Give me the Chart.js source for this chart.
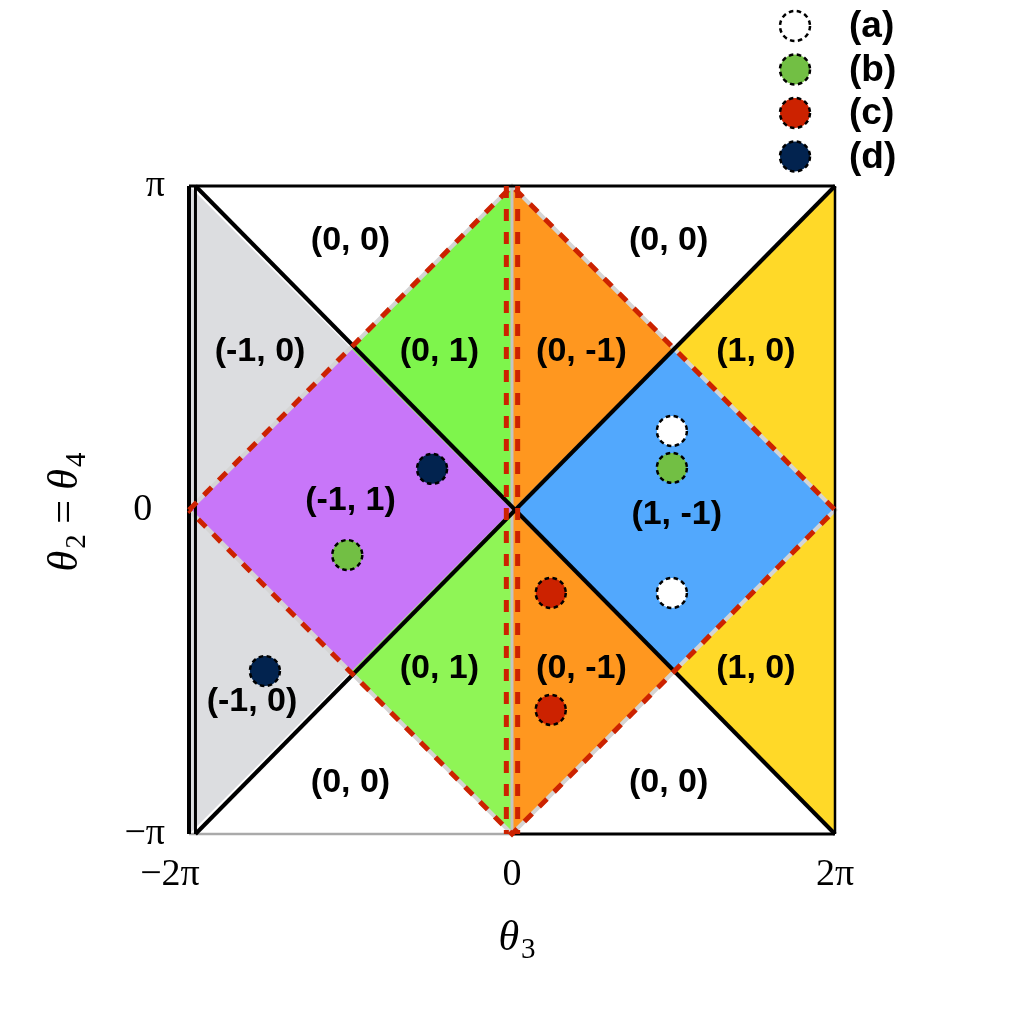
<!DOCTYPE html>
<html><head><meta charset="utf-8">
<script src="https://cdn.jsdelivr.net/npm/chart.js@4.4.1/dist/chart.umd.min.js"></script>
<style>html,body{margin:0;padding:0;background:#fff}</style>
</head><body>
<canvas id="c" width="1024" height="1024"></canvas>
<script>
// All coordinates are in units of π  (θ3 / π , θ2 / π)
const xTicks = [-2, 0, 2];
const xTickLabels = ['−2π\u2003', '0', '2π'];
const yTicks = [-1, 0, 1];
const yTickLabels = ['−π', '0\u2004', 'π'];

// coloured regions (polygon vertices)
const grayUpper   = [[-2, 1], [-1, 0.5], [-2, 0]];
const grayLower   = [[-2, 0], [-1, -0.5], [-2, -1]];
const purpleDiam  = [[-2, 0], [-1, 0.5], [0, 0], [-1, -0.5]];
const greenUpper  = [[-1, 0.5], [0, 1], [0, 0]];
const greenLower  = [[-1, -0.5], [0, 0], [0, -1]];
const orangeUpper = [[0, 1], [1, 0.5], [0, 0]];
const orangeLower = [[0, 0], [1, -0.5], [0, -1]];
const blueDiam    = [[0, 0], [1, 0.5], [2, 0], [1, -0.5]];
const yellowUpper = [[2, 1], [1, 0.5], [2, 0]];
const yellowLower = [[2, 0], [1, -0.5], [2, -1]];

// boundary lines
const redDiamond  = [[-2, 0], [0, 1], [2, 0], [0, -1], [-2, 0]];
const redVertL    = [[-0.035, 1], [-0.035, -1]];
const redVertR    = [[0.035, 1], [0.035, -1]];
const centerVert  = [[0, 1], [0, -1]];
const diagDown    = [[-1.96, 1], [2, -1]];
const diagUp      = [[-1.96, -1], [2, 1]];
const frameTop    = [[-2, 1], [2, 1]];
const frameRight  = [[2, 1], [2, -1]];
const frameBotR   = [[0, -1], [2, -1]];
const frameBotL   = [[-2, -1], [0, -1]];
const frameLeft   = [[-2, 1], [-2, -1]];
const frameLeft2  = [[-1.96, 1], [-1.96, -1]];

// marker series
const seriesNames = ['(a)', '(b)', '(c)', '(d)'];
const seriesA = [[0.99, 0.244], [0.99, -0.256]];
const seriesB = [[0.99, 0.13], [-1.02, -0.139]];
const seriesC = [[0.24, -0.256], [0.24, -0.617]];
const seriesD = [[-0.495, 0.127], [-1.53, -0.497]];
const seriesColors = ['#ffffff', '#72bf44', '#cc2200', '#02234f'];

// region labels
const regionLabels = ['(0, 0)', '(0, 0)', '(0, 0)', '(0, 0)',
  '(-1, 0)', '(0, 1)', '(0, -1)', '(1, 0)',
  '(-1, 1)', '(1, -1)',
  '(-1, 0)', '(0, 1)', '(0, -1)', '(1, 0)'];
const regionLabelX = [-1.0, 0.97, -1.0, 0.97, -1.56, -0.45, 0.43, 1.51, -1.0, 1.02, -1.61, -0.45, 0.43, 1.51];
const regionLabelY = [0.83, 0.83, -0.84, -0.84, 0.49, 0.49, 0.49, 0.49, 0.03, -0.015, -0.59, -0.49, -0.49, -0.49];

// axis titles: [text, italic?, subscript?]
const xTitle = [['θ', true, false], ['3', false, true]];
const yTitle = [['θ', true, false], ['2', false, true], [' = ', false, false], ['θ', true, false], ['4', false, true]];

const pts = a => a.map(p => ({x: p[0], y: p[1]}));

function poly(data, color) {
  return {type: 'scatter', data: pts(data.concat([data[0]])), showLine: true, fill: 'shape',
    backgroundColor: color, borderColor: color, borderWidth: 0.5, pointRadius: 0, order: 20, clip: false};
}
function line(data, color, width, dash, order) {
  return {type: 'scatter', data: pts(data), showLine: true, fill: false, borderColor: color,
    borderWidth: width, borderDash: dash || [], pointRadius: 0, order: order, clip: 10, borderCapStyle: 'butt'};
}
function marker(name, data, color) {
  return {type: 'scatter', label: name, data: pts(data), pointRadius: 15, pointHoverRadius: 15,
    pointBackgroundColor: color, pointBorderColor: '#000', pointBorderWidth: 2.5,
    backgroundColor: color, borderColor: '#000', order: 1, isMarker: true};
}

const datasets = [
  poly(grayUpper, '#dcdde0'), poly(grayLower, '#dcdde0'),
  poly(purpleDiam, '#c876f9'),
  poly(greenUpper, '#7ef54c'), poly(greenLower, '#8ff556'),
  poly(orangeUpper, '#ff971f'), poly(orangeLower, '#ff971f'),
  poly(blueDiam, '#52a8fd'),
  poly(yellowUpper, '#ffd928'), poly(yellowLower, '#ffd928'),
  line(redDiamond, '#d4d4d4', 4, null, 12),
  line(centerVert, '#c4c4c4', 3, null, 11),
  line(frameBotL, '#aaaaaa', 2.5, null, 10),
  line(frameTop, '#000', 3, null, 9),
  line(frameRight, '#000', 2.5, null, 9),
  line(frameBotR, '#000', 3, null, 9),
  line(frameLeft, '#000', 4, null, 9),
  line(frameLeft2, '#000', 3, null, 9),
  line(diagDown, '#000', 4, null, 8),
  line(diagUp, '#000', 4, null, 8),
  line(redDiamond, '#cc2200', 5, [11, 10], 5),
  line(redVertL, '#cc2200', 5, [12, 11], 5),
  line(redVertR, '#cc2200', 5, [12, 11], 5),
  marker(seriesNames[0], seriesA, seriesColors[0]),
  marker(seriesNames[1], seriesB, seriesColors[1]),
  marker(seriesNames[2], seriesC, seriesColors[2]),
  marker(seriesNames[3], seriesD, seriesColors[3])
];

const markerDash = {
  id: 'markerDash',
  beforeDatasetDraw(chart, args) {
    const ds = chart.data.datasets[args.index];
    if (ds.isMarker) chart.ctx.setLineDash([4.5, 3.5]);
  },
  afterDatasetDraw(chart) {
    chart.ctx.setLineDash([]);
  }
};

const labelsPlugin = {
  id: 'regionLabels',
  afterDatasetsDraw(chart) {
    const ctx = chart.ctx, xs = chart.scales.x, ys = chart.scales.y;
    ctx.save();
    ctx.fillStyle = '#000';
    ctx.font = 'bold 34px "Liberation Sans", Arial, sans-serif';
    ctx.textAlign = 'center';
    ctx.textBaseline = 'middle';
    regionLabels.forEach((t, i) => {
      ctx.fillText(t, xs.getPixelForValue(regionLabelX[i]), ys.getPixelForValue(regionLabelY[i]));
    });
    ctx.restore();
  }
};

const SERIF = '"Liberation Serif", "DejaVu Serif", serif';
function mathFont(p) {
  return (p[1] ? 'italic ' : '') + (p[2] ? '29px ' : '42px ') + SERIF;
}
function drawMath(ctx, pieces, cx, baseY) {
  let total = 0;
  const widths = pieces.map(p => { ctx.font = mathFont(p); const w = ctx.measureText(p[0]).width; total += w; return w; });
  let x = cx - total / 2;
  ctx.textAlign = 'left';
  ctx.textBaseline = 'alphabetic';
  pieces.forEach((p, i) => {
    ctx.font = mathFont(p);
    ctx.fillText(p[0], x, baseY + (p[2] ? 8 : 0));
    x += widths[i] + (p[1] ? 2 : 0);
  });
}

const titlesPlugin = {
  id: 'axisTitles',
  afterDraw(chart) {
    const ctx = chart.ctx, a = chart.chartArea;
    ctx.save();
    ctx.fillStyle = '#000';
    drawMath(ctx, xTitle, (a.left + a.right) / 2 + 4, 950);
    ctx.translate(77, (a.top + a.bottom) / 2 + 4);
    ctx.rotate(-Math.PI / 2);
    drawMath(ctx, yTitle, 0, 0);
    ctx.restore();
  }
};

// legend drawn at the top right, using the marker datasets' styles
const legendPlugin = {
  id: 'customLegend',
  afterDraw(chart) {
    const ctx = chart.ctx;
    const markers = chart.data.datasets.filter(d => d.isMarker);
    ctx.save();
    markers.forEach((d, i) => {
      const cy = 26 + i * 43.5;
      ctx.beginPath();
      ctx.arc(795, cy, 15, 0, Math.PI * 2);
      ctx.fillStyle = d.pointBackgroundColor;
      ctx.fill();
      ctx.setLineDash([4.5, 3.5]);
      ctx.lineWidth = 2.5;
      ctx.strokeStyle = '#000';
      ctx.stroke();
      ctx.setLineDash([]);
      ctx.fillStyle = '#000';
      ctx.font = 'bold 37px "Liberation Sans", Arial, sans-serif';
      ctx.textAlign = 'left';
      ctx.textBaseline = 'middle';
      ctx.fillText(d.label, 849, cy + 1);
    });
    ctx.restore();
  }
};

new Chart(document.getElementById('c'), {
  type: 'scatter',
  data: {datasets},
  options: {
    responsive: false,
    animation: false,
    devicePixelRatio: 1,
    layout: {padding: {left: 40, right: 189, top: 186, bottom: 62}},
    plugins: {legend: {display: false}, tooltip: {enabled: false}},
    elements: {line: {tension: 0}},
    scales: {
      x: {
        type: 'linear', min: -2, max: 2,
        grid: {display: false, drawTicks: false}, border: {display: false},
        afterBuildTicks: s => { s.ticks = xTicks.map(v => ({value: v})); },
        afterFit: s => { s.height = 128; s.paddingLeft = 0; s.paddingRight = 0; },
        ticks: {
          autoSkip: false, maxRotation: 0, padding: 18, color: '#000',
          font: {family: SERIF, size: 38},
          callback: v => xTickLabels[xTicks.indexOf(v)]
        },
        title: {display: false}
      },
      y: {
        type: 'linear', min: -1, max: 1,
        grid: {display: false, drawTicks: false}, border: {display: false},
        afterBuildTicks: s => { s.ticks = yTicks.map(v => ({value: v})); },
        afterFit: s => { s.width = 149; s.paddingTop = 0; s.paddingBottom = 0; },
        ticks: {
          autoSkip: false, padding: 24, color: '#000',
          font: {family: SERIF, size: 38},
          callback: v => yTickLabels[yTicks.indexOf(v)]
        },
        title: {display: false}
      }
    }
  },
  plugins: [markerDash, labelsPlugin, titlesPlugin, legendPlugin]
});
</script>
</body></html>
